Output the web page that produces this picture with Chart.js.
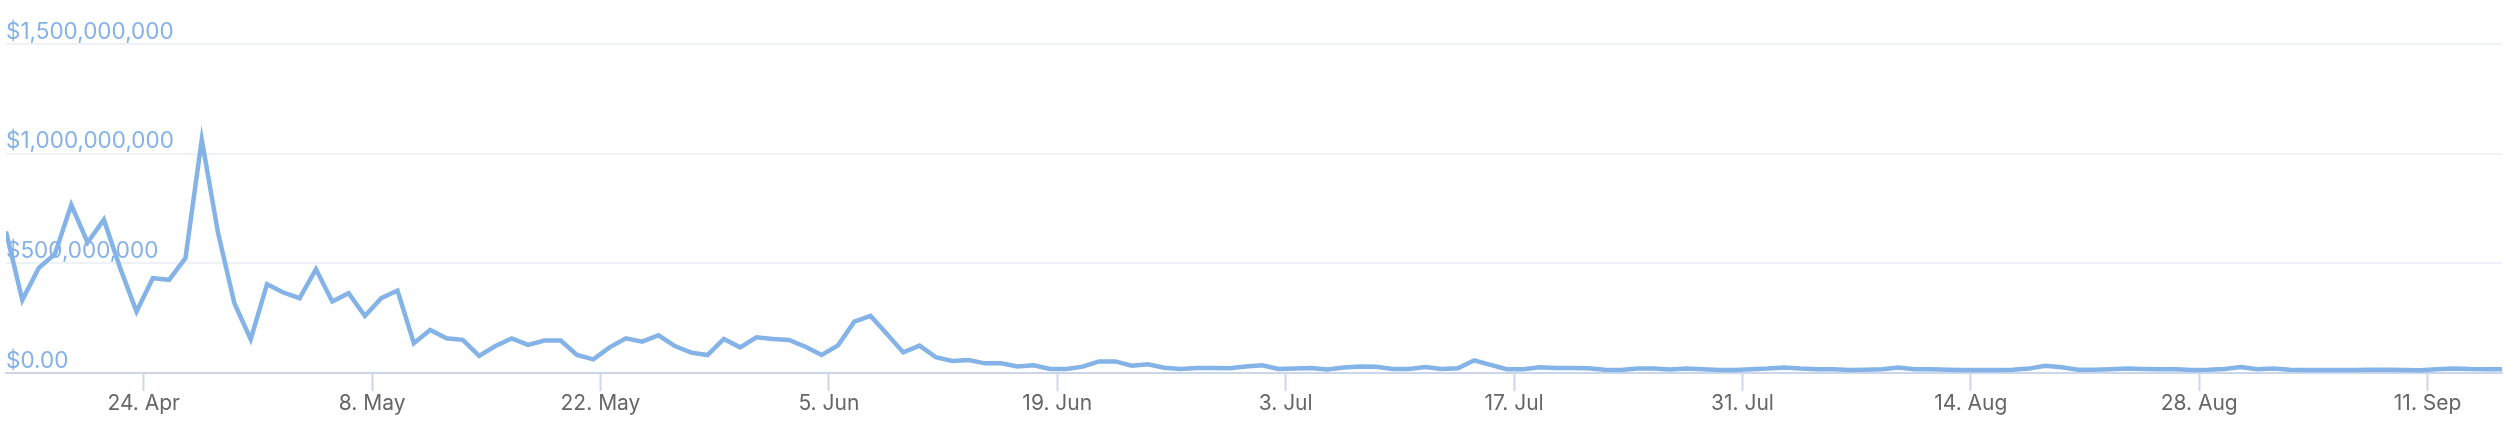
<!DOCTYPE html>
<html>
<head>
<meta charset="utf-8">
<script src="https://cdn.jsdelivr.net/npm/chart.js@4.4.0/dist/chart.umd.min.js"></script>
<style>
  html, body { margin: 0; padding: 0; background: #fff; }
  #wrap { width: 2518px; height: 430px; }
</style>
</head>
<body>
<div id="wrap"><canvas id="chartVolume" width="2518" height="430"></canvas></div>
<script>
// daily volume, in millions of USD, starting 16 Apr
var startDay = "16. Apr";
var volumeM = [
  645, 333, 478, 543, 767, 595, 699, 478, 280, 432,
  425, 524, 1064, 638, 318, 154, 405, 367, 341, 473,
  326, 364, 260, 341, 376, 136, 196, 158, 151, 78,
  123, 158, 128, 148, 148, 82, 62, 117, 158, 143,
  172, 123, 93, 82, 155, 117, 163, 155, 151, 120,
  82, 126, 234, 260, 178, 94, 125, 72, 55, 59,
  44, 44, 30, 35, 18, 18, 29, 53, 53, 33,
  40, 24, 18, 23, 23, 22, 30, 35, 18, 20,
  23, 16, 25, 30, 28, 18, 18, 27, 18, 22,
  58, 37, 17, 17, 26, 23, 23, 22, 15, 14,
  20, 20, 16, 21, 17, 14, 14, 17, 20, 25,
  20, 17, 17, 14, 15, 17, 25, 17, 17, 15,
  14, 14, 14, 15, 20, 33, 26, 15, 15, 17,
  20, 18, 17, 17, 14, 15, 18, 27, 17, 21,
  15, 14, 14, 14, 14, 15, 15, 14, 13, 17,
  21, 18, 17, 17
];

// x axis ticks (day index from start) and their labels
var tickDays = [8, 22, 36, 50, 64, 78, 92, 106, 120, 134, 148];
var tickLabels = ["24. Apr", "8. May", "22. May", "5. Jun", "19. Jun", "3. Jul",
  "17. Jul", "31. Jul", "14. Aug", "28. Aug", "11. Sep"];

// y axis ticks
var yTicks = [0, 500000000, 1000000000, 1500000000];

var tickShift = 0.44;
var font = "Inter, 'Helvetica Neue', Helvetica, Arial, sans-serif";

var points = volumeM.map(function (v, i) {
  return { x: i, y: v * 1000000 };
});

var ctx = document.getElementById("chartVolume").getContext("2d");
var chart = new Chart(ctx, {
  type: "line",
  data: {
    datasets: [
      {
        label: "Volume",
        data: points,
        borderColor: "#84b3e8",
        borderWidth: 4.5,
        pointRadius: 0,
        pointHoverRadius: 0,
        tension: 0,
        fill: false,
      },
    ],
  },
  options: {
    responsive: false,
    animation: false,
    devicePixelRatio: 1,
    layout: {
      padding: { top: 44, left: 6, right: 16, bottom: 0 },
    },
    plugins: {
      legend: { display: false },
      tooltip: { enabled: false },
    },
    scales: {
      x: {
        type: "linear",
        min: 0,
        max: volumeM.length - 1,
        afterBuildTicks: function (scale) {
          scale.ticks = tickDays.map(function (d) {
            return { value: d + tickShift };
          });
        },
        afterFit: function (scale) {
          scale.height = 57;
        },
        grid: {
          drawOnChartArea: false,
          drawTicks: true,
          tickLength: 18,
          tickWidth: 2,
          tickColor: "#ccd6eb",
        },
        border: { display: true, color: "#ccd6eb", width: 2 },
        ticks: {
          autoSkip: false,
          maxRotation: 0,
          padding: 0,
          color: "#666666",
          font: { family: font, size: 21 },
          callback: function (value, index) {
            return tickLabels[index];
          },
        },
      },
      y: {
        min: 0,
        max: 1500000000,
        afterBuildTicks: function (scale) {
          scale.ticks = yTicks.map(function (v) {
            return { value: v };
          });
        },
        afterFit: function (scale) {
          scale.width = 0;
        },
        grid: {
          color: "#eef1f7",
          lineWidth: 2,
          drawTicks: false,
        },
        border: { display: false },
        ticks: {
          mirror: true,
          padding: 0,
          labelOffset: -12,
          color: "#84b2e8",
          font: { family: font, size: 22.5 },
          callback: function (value) {
            if (value === 0) return "$0.00";
            return "$" + value.toLocaleString("en-US");
          },
        },
      },
    },
  },
});
</script>
</body>
</html>
